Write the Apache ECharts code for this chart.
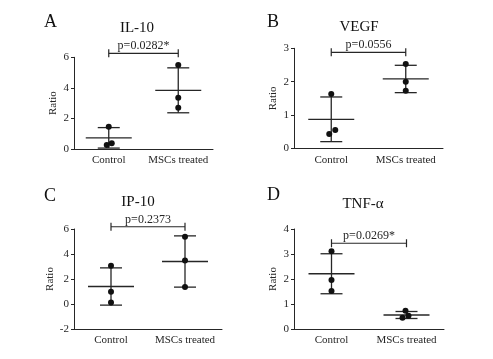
<!DOCTYPE html>
<html><head><meta charset="utf-8">
<script src="https://cdn.jsdelivr.net/npm/echarts@6/dist/echarts.min.js"></script>
<style>html,body{margin:0;padding:0;background:#fff}#c{width:493px;height:359px}</style>
</head><body><div id="c"></div>
<script>
// ---- data ----
const categories = ['Control', 'MSCs treated'];
const panelLetters = ['A', 'B', 'C', 'D'];
const panelTitles = ['IL-10', 'VEGF', 'IP-10', 'TNF-α'];
const pLabels = ['p=0.0282*', 'p=0.0556', 'p=0.2373', 'p=0.0269*'];
const bracketLevels = [6.26, 2.88, 6.18, 3.43];
const yMins = [0, 0, -2, 0];
const yMaxs = [6, 3, 6, 4];
const yIntervals = [2, 1, 2, 1];

const il10Control = [1.45, 0.26, 0.37];
const il10MSC = [5.49, 3.35, 2.70];
const il10Mean = [0.73, 3.84];
const il10SD = [0.67, 1.47];

const vegfControl = [1.63, 0.43, 0.55];
const vegfMSC = [2.53, 2.00, 1.73];
const vegfMean = [0.87, 2.08];
const vegfSD = [0.67, 0.41];

const ip10Control = [3.06, 0.99, 0.12];
const ip10MSC = [5.39, 3.49, 1.36];
const ip10Mean = [1.40, 3.40];
const ip10SD = [1.49, 2.05];

const tnfControl = [3.11, 1.96, 1.52];
const tnfMSC = [0.73, 0.45, 0.53];
const tnfMean = [2.21, 0.56];
const tnfSD = [0.80, 0.14];

// ---- layout / style (not data) ----
const grids = [
  {left: 74, top: 57.3, width: 139, height: 91.7},
  {left: 294, top: 48.3, width: 149, height: 100},
  {left: 74, top: 229, width: 148, height: 100},
  {left: 294, top: 229, width: 150, height: 100}
];
const jitterPx = [
  [[0, -2, 3], [0, 0, 0]],
  [[0, -2, 4], [0, 0, 0]],
  [[0, 0, 0], [0, 0, 0]],
  [[0, 0, 0], [-1, -4, 2]]
];
const letterPos = [[50, 23], [273, 23], [50, 197], [273, 196]];
const titlePos = [[137, 28], [359, 27], [138, 202], [363, 204]];

const panels = [
  {ctrl: il10Control, msc: il10MSC, mean: il10Mean, sd: il10SD},
  {ctrl: vegfControl, msc: vegfMSC, mean: vegfMean, sd: vegfSD},
  {ctrl: ip10Control, msc: ip10MSC, mean: ip10Mean, sd: ip10SD},
  {ctrl: tnfControl, msc: tnfMSC, mean: tnfMean, sd: tnfSD}
];

const FONT = '"Liberation Serif", "Times New Roman", serif';
const INK = '#262626';

const xAxes = [], yAxes = [], series = [], graphics = [];
panels.forEach((p, i) => {
  xAxes.push({
    gridIndex: i, type: 'category', data: categories, boundaryGap: true,
    axisLine: {onZero: false, lineStyle: {color: INK, width: 1}},
    axisTick: {alignWithLabel: true, interval: 0, length: 4, lineStyle: {color: INK}},
    axisLabel: {interval: 0, color: INK, fontFamily: FONT, fontSize: 11, margin: 6},
    splitLine: {show: false}
  });
  yAxes.push({
    gridIndex: i, type: 'value', min: yMins[i], max: yMaxs[i], interval: yIntervals[i],
    name: 'Ratio', nameLocation: 'middle', nameGap: 15, nameRotate: 90,
    nameTextStyle: {color: INK, fontFamily: FONT, fontSize: 11},
    axisLine: {show: true, onZero: false, lineStyle: {color: INK, width: 1}},
    axisTick: {show: true, length: 3, lineStyle: {color: INK}},
    axisLabel: {color: INK, fontFamily: FONT, fontSize: 11, margin: 5},
    splitLine: {show: false}
  });
  // points
  const pts = [];
  p.ctrl.forEach((v, k) => pts.push([0, v, jitterPx[i][0][k]]));
  p.msc.forEach((v, k) => pts.push([1, v, jitterPx[i][1][k]]));
  series.push({
    type: 'custom', xAxisIndex: i, yAxisIndex: i, data: pts, clip: false,
    renderItem: (params, api) => {
      const c = api.coord([api.value(0), api.value(1)]);
      return {type: 'circle', shape: {cx: c[0] + api.value(2), cy: c[1], r: 3}, style: {fill: '#111'}};
    },
    z: 5
  });
  // mean + SD
  const stats = p.mean.map((m, k) => [k, m, p.sd[k]]);
  series.push({
    type: 'custom', xAxisIndex: i, yAxisIndex: i, data: stats, clip: false,
    renderItem: (params, api) => {
      const x = api.value(0), m = api.value(1), s = api.value(2);
      const cm = api.coord([x, m]);
      const cu = api.coord([x, m + s]);
      const cl = api.coord([x, m - s]);
      const ls = {stroke: INK, lineWidth: 1.3};
      return {type: 'group', children: [
        {type: 'line', shape: {x1: cm[0] - 23, y1: cm[1], x2: cm[0] + 23, y2: cm[1]}, style: ls},
        {type: 'line', shape: {x1: cu[0], y1: cu[1], x2: cl[0], y2: cl[1]}, style: ls},
        {type: 'line', shape: {x1: cu[0] - 11, y1: cu[1], x2: cu[0] + 11, y2: cu[1]}, style: ls},
        {type: 'line', shape: {x1: cl[0] - 11, y1: cl[1], x2: cl[0] + 11, y2: cl[1]}, style: ls}
      ]};
    },
    z: 4
  });
  // bracket
  series.push({
    type: 'custom', xAxisIndex: i, yAxisIndex: i, data: [[bracketLevels[i]]], clip: false,
    renderItem: (params, api) => {
      const y = api.value(0);
      const a = api.coord([0, y]), b = api.coord([1, y]);
      const ls = {stroke: INK, lineWidth: 1.2};
      return {type: 'group', children: [
        {type: 'line', shape: {x1: a[0], y1: a[1], x2: b[0], y2: b[1]}, style: ls},
        {type: 'line', shape: {x1: a[0], y1: a[1] - 4, x2: a[0], y2: a[1] + 4}, style: ls},
        {type: 'line', shape: {x1: b[0], y1: b[1] - 4, x2: b[0], y2: b[1] + 4}, style: ls},
        {type: 'text', style: {x: (a[0] + b[0]) / 2, y: a[1] - 1, text: pLabels[i], textAlign: 'center',
          textVerticalAlign: 'bottom', fill: INK, font: '12px ' + FONT}}
      ]};
    },
    z: 3
  });
  graphics.push({type: 'text', left: letterPos[i][0] - 6, top: letterPos[i][1] - 10,
    style: {text: panelLetters[i], fill: '#111', font: '18px ' + FONT}});
  graphics.push({type: 'text', x: titlePos[i][0], y: titlePos[i][1],
    style: {text: panelTitles[i], fill: '#111', font: '15px ' + FONT, textAlign: 'center', textVerticalAlign: 'middle'}});
});

const chart = echarts.init(document.getElementById('c'), null, {renderer: 'canvas'});
chart.setOption({
  animation: false,
  backgroundColor: '#fff',
  grid: grids,
  xAxis: xAxes,
  yAxis: yAxes,
  series: series,
  graphic: graphics
});
</script></body></html>
